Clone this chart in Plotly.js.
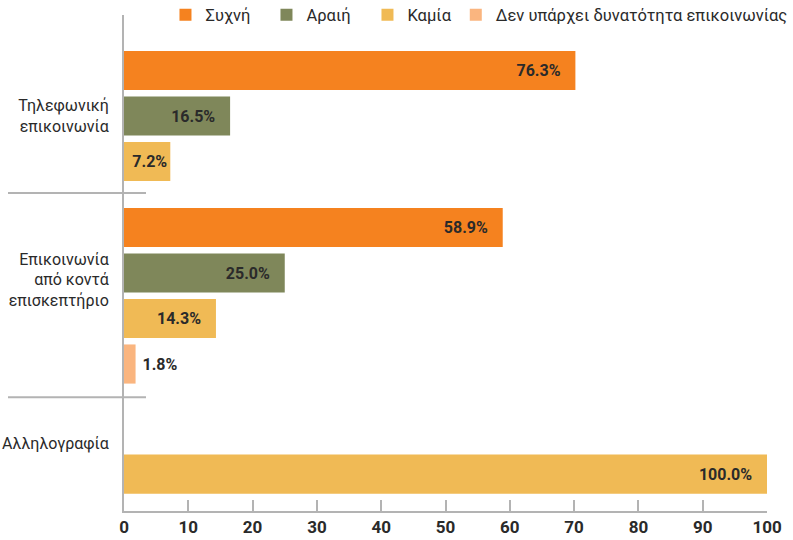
<!DOCTYPE html>
<html>
<head>
<meta charset="utf-8">
<script src="https://cdn.plot.ly/plotly-3.0.1.min.js"></script>
<style>
html, body { margin: 0; padding: 0; background: #fff; }
#chart { width: 793px; height: 540px; }
</style>
</head>
<body>
<div id="chart"></div>
<script>
// groups on the vertical axis
var categories = ['Τηλεφωνική<br>επικοινωνία', 'Επικοινωνία<br>από κοντά<br>επισκεπτήριο', 'Αλληλογραφία'];
var seriesNames = ['Συχνή', 'Αραιή', 'Καμία', 'Δεν υπάρχει δυνατότητα επικοινωνίας'];

// bar lengths as drawn in the picture (%)
var syxni = [70.2, 58.9, null];
var araii = [16.5, 25.0, null];
var kamia = [7.2, 14.3, 100.0];
var denYparxei = [null, 1.8, null];

// labels printed on the bars
var syxniLabels = ['76.3%', '58.9%', ''];
var araiiLabels = ['16.5%', '25.0%', ''];
var kamiaLabels = ['7.2%', '14.3%', '100.0%'];
var denYparxeiLabels = ['', '1.8%', ''];

var colors = ['#F5821F', '#7F875A', '#F0BA55', '#FAB57F'];

var seriesValues = [syxni, araii, kamia, denYparxei];
var seriesLabels = [syxniLabels, araiiLabels, kamiaLabels, denYparxeiLabels];

// row layout (axis units, one unit = one bar slot)
var groupStart = [1.22, 4.67, 8.09];
var groupLabelPos = [2.22, 5.82, 9.41];
var separatorPos = [3.91, 8.40];
var yMax = 10.9;

var FONT = 'Roboto, "Liberation Sans", sans-serif';
var GREY = '#b3b3b3';
var INK = '#2a2a2a';

var data = [];
var s, g;
for (s = 0; s < seriesValues.length; s++) {
	var ys = [], xs = [], txt = [], pos = [];
	for (g = 0; g < categories.length; g++) {
		var v = seriesValues[s][g];
		ys.push(groupStart[g] + s);
		xs.push(v);
		if (v === null) {
			txt.push('');
			pos.push('none');
		} else if (v < 5) {
			txt.push('\u00a0' + seriesLabels[s][g]);
			pos.push('outside');
		} else if (v < 10) {
			txt.push(seriesLabels[s][g]);
			pos.push('inside');
		} else {
			txt.push(seriesLabels[s][g] + '\u00a0\u00a0\u00a0');
			pos.push('inside');
		}
	}
	data.push({
		type: 'bar',
		orientation: 'h',
		name: seriesNames[s],
		legend: s < 3 ? 'legend' : 'legend2',
		x: xs,
		y: ys,
		width: 0.86,
		text: txt,
		textposition: pos,
		insidetextanchor: 'end',
		constraintext: 'none',
		cliponaxis: false,
		textfont: { family: FONT, size: 16, color: INK, weight: 'bold' },
		marker: { color: colors[s], line: { width: 0 } },
		hoverinfo: 'x+name'
	});
}

var shapes = [];
for (g = 0; g < separatorPos.length; g++) {
	shapes.push({
		type: 'line',
		xref: 'paper', yref: 'paper',
		x0: -0.1804, x1: 0.0342,
		y0: 1 - separatorPos[g] / yMax, y1: 1 - separatorPos[g] / yMax,
		line: { color: GREY, width: 2 }
	});
}

var legendFont = { family: FONT, size: 16.5, color: INK };

var layout = {
	width: 793,
	height: 540,
	margin: { l: 124, r: 26, t: 15, b: 29, autoexpand: false },
	paper_bgcolor: '#fff',
	plot_bgcolor: '#fff',
	barmode: 'overlay',
	font: { family: FONT, size: 16, color: INK },
	showlegend: true,
	legend: {
		orientation: 'h',
		x: 0.0645,
		y: 1,
		xanchor: 'left',
		yanchor: 'middle',
		font: legendFont,
		entrywidth: 56,
		entrywidthmode: 'pixels',
		bgcolor: 'rgba(0,0,0,0)'
	},
	legend2: {
		orientation: 'h',
		x: 0.516,
		y: 1,
		xanchor: 'left',
		yanchor: 'middle',
		font: legendFont,
		bgcolor: 'rgba(0,0,0,0)'
	},
	xaxis: {
		range: [0, 100],
		dtick: 10,
		tick0: 0,
		ticks: 'inside',
		ticklen: 11,
		tickwidth: 2,
		tickcolor: GREY,
		showline: true,
		linecolor: GREY,
		linewidth: 2,
		showgrid: false,
		zeroline: false,
		fixedrange: true,
		automargin: false,
		tickfont: { family: FONT, size: 17, color: INK, weight: 'bold' }
	},
	yaxis: {
		range: [yMax, 0],
		tickvals: groupLabelPos,
		ticktext: categories,
		ticks: '',
		ticklabelstandoff: 10,
		showline: true,
		linecolor: GREY,
		linewidth: 2,
		showgrid: false,
		zeroline: false,
		fixedrange: true,
		automargin: false,
		tickfont: { family: FONT, size: 16, color: INK }
	},
	shapes: shapes
};

Plotly.newPlot('chart', data, layout, { displayModeBar: false, staticPlot: true });
</script>
</body>
</html>
